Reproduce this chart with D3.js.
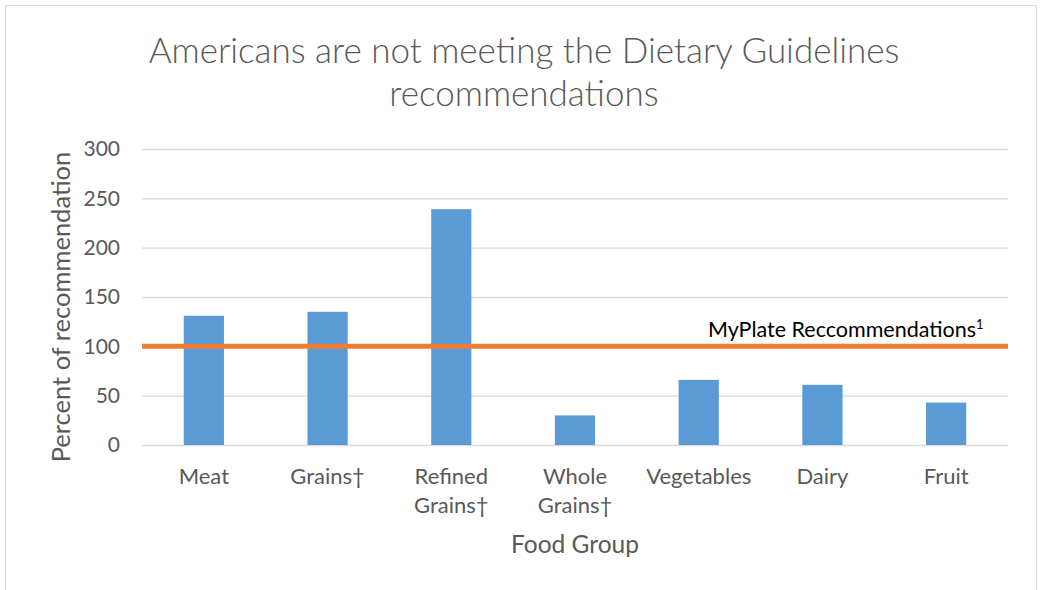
<!DOCTYPE html>
<html>
<head>
<meta charset="utf-8">
<script src="https://cdn.jsdelivr.net/npm/d3@7"></script>
<style>
  body { margin: 0; background: #fff; }
  svg text { font-family: Lato, "Open Sans", sans-serif; }
</style>
</head>
<body>
<svg id="chart" width="1042" height="590"></svg>
<script>
// Data
const categories = [["Meat"], ["Grains†"], ["Refined", "Grains†"], ["Whole", "Grains†"], ["Vegetables"], ["Dairy"], ["Fruit"]];
const values = [131, 135, 239, 30, 66, 61, 43];
const yTicks = [0, 50, 100, 150, 200, 250, 300];
const recommendation = 100;

const svg = d3.select("#chart");
const margin = { left: 142, right: 1042 - 1008, top: 149, bottom: 590 - 445 };
const W = 1042, H = 590;

// chart frame
svg.append("rect")
  .attr("x", 5.5).attr("y", 5.5)
  .attr("width", 1031).attr("height", 600)
  .attr("fill", "#fff").attr("stroke", "#d9d9d9");

const x = d3.scaleBand()
  .domain(categories.map(c => c.join(" ")))
  .range([margin.left, W - margin.right])
  .paddingInner(0.675).paddingOuter(0.3375);

const y = d3.scaleLinear().domain([0, 300]).range([H - margin.bottom, margin.top]);

// gridlines
svg.append("g")
  .selectAll("line")
  .data(yTicks)
  .join("line")
    .attr("x1", margin.left).attr("x2", W - margin.right)
    .attr("y1", d => y(d) + 0.5).attr("y2", d => y(d) + 0.5)
    .attr("stroke", "#d9d9d9").attr("stroke-width", 1.3);

// y tick labels
svg.append("g")
  .selectAll("text")
  .data(yTicks)
  .join("text")
    .attr("x", 120).attr("y", d => y(d))
    .attr("dy", "0.35em")
    .attr("text-anchor", "end")
    .attr("font-size", 21)
    .attr("fill", "#595959")
    .text(d => d);

// bars
svg.append("g")
  .selectAll("rect")
  .data(values)
  .join("rect")
    .attr("x", (d, i) => x(categories[i].join(" ")))
    .attr("width", x.bandwidth())
    .attr("y", d => y(d))
    .attr("height", d => y(0) - y(d))
    .attr("fill", "#5b9bd5");

// x labels
const xl = svg.append("g")
  .selectAll("text")
  .data(categories)
  .join("text")
    .attr("x", d => x(d.join(" ")) + x.bandwidth() / 2)
    .attr("y", 484)
    .attr("text-anchor", "middle")
    .attr("font-size", 22)
    .attr("fill", "#595959");
xl.selectAll("tspan")
  .data(d => d)
  .join("tspan")
    .attr("x", function() { return this.parentNode.getAttribute("x"); })
    .attr("dy", (d, i) => i ? 29 : 0)
    .text(d => d);

// recommendation line
svg.append("line")
  .attr("x1", margin.left).attr("x2", W - margin.right)
  .attr("y1", y(recommendation)).attr("y2", y(recommendation))
  .attr("stroke", "#ed7d31").attr("stroke-width", 5);

svg.append("text")
  .attr("x", 708).attr("y", 337)
  .attr("font-size", 21.5)
  .attr("fill", "#000")
  .text("MyPlate Reccommendations")
  .append("tspan")
    .attr("font-size", 13).attr("dy", -8)
    .text("1");

// axis titles
svg.append("text")
  .attr("x", 575).attr("y", 553)
  .attr("text-anchor", "middle")
  .attr("font-size", 24.5)
  .attr("fill", "#595959")
  .text("Food Group");

svg.append("text")
  .attr("transform", "translate(70,307) rotate(-90)")
  .attr("text-anchor", "middle")
  .attr("font-size", 25.5)
  .attr("fill", "#595959")
  .text("Percent of recommendation");

// title
svg.append("text")
  .attr("x", 524).attr("text-anchor", "middle")
  .attr("font-size", 35).attr("font-weight", 300)
  .attr("fill", "#595959")
  .selectAll("tspan")
  .data(["Americans are not meeting the Dietary Guidelines", "recommendations"])
  .join("tspan")
    .attr("x", 524)
    .attr("y", (d, i) => 63 + i * 43)
    .text(d => d);
</script>
</body>
</html>
